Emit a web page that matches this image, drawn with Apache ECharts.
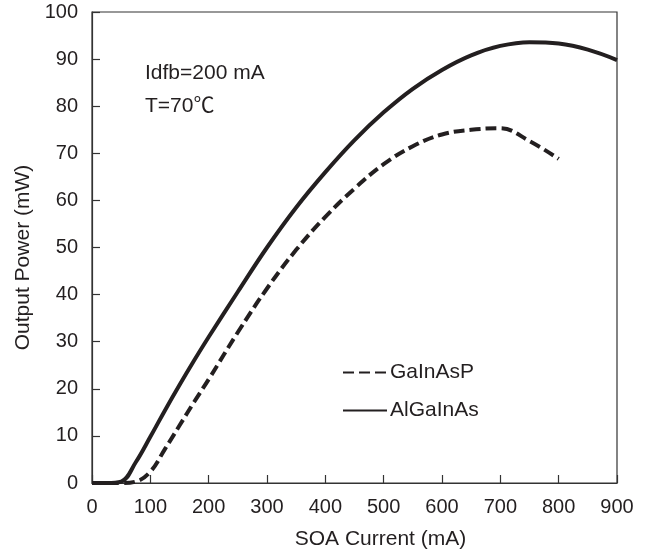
<!DOCTYPE html>
<html>
<head>
<meta charset="utf-8">
<script src="https://cdn.jsdelivr.net/npm/echarts@6/dist/echarts.min.js"></script>
<style>
  html, body { margin: 0; padding: 0; background: #fff; }
  #chart { width: 648px; height: 555px; }
</style>
</head>
<body>
<div id="chart"></div>
<script>
// ---- data ----
var gainaspCurrent = [0, 25, 50, 75, 100, 125, 150, 175, 200, 250, 300, 350, 400, 450, 500, 550, 600, 650, 700, 750, 800];
var gainaspPower   = [0, 0, 0, 0.3, 2.4, 7.2, 12.2, 17.2, 22, 32, 41.3, 49.5, 56.5, 62.5, 67.7, 71.5, 74, 75, 75.3, 72.6, 68.8];

var algainasCurrent = [0, 25, 50, 75, 100, 125, 150, 175, 200, 250, 300, 350, 400, 450, 500, 550, 600, 650, 700, 750, 800, 850, 900];
var algainasPower   = [0, 0, 0.3, 4.4, 9.8, 15.4, 20.8, 26, 31, 40.6, 50, 58.5, 66, 72.8, 78.7, 83.7, 87.7, 90.8, 92.8, 93.6, 93.3, 92, 89.8];

var xTicks = [0, 100, 200, 300, 400, 500, 600, 700, 800, 900];
var yTicks = [0, 10, 20, 30, 40, 50, 60, 70, 80, 90, 100];

var seriesNames = ['GaInAsP', 'AlGaInAs'];
var xAxisName = 'SOA Current (mA)';
var yAxisName = 'Output Power (mW)';
var noteLines = ['Idfb=200 mA', 'T=70\u2103'];

function pairs(xs, ys) {
  return xs.map(function (x, i) { return [x, ys[i]]; });
}

var FONT = '"Liberation Sans", Arial, Helvetica, "Noto Sans CJK SC", sans-serif';
var INK = '#231f20';

var chart = echarts.init(document.getElementById('chart'), null, { renderer: 'canvas' });

chart.setOption({
  backgroundColor: '#fff',
  animation: false,
  textStyle: { fontFamily: FONT, color: INK },
  grid: {
    left: 92, right: 31, top: 12, bottom: 67,
    show: true, borderColor: '#333', borderWidth: 1.2, backgroundColor: 'transparent'
  },
  legend: {
    orient: 'vertical',
    left: 342, top: 362, padding: 0,
    itemWidth: 44, itemHeight: 14, itemGap: 17,
    itemStyle: { opacity: 0 },
    textStyle: { fontFamily: FONT, fontSize: 21, color: INK, padding: [0, 0, 0, -2] },
    data: seriesNames.map(function (n) { return { name: n }; })
  },
  xAxis: {
    type: 'value',
    min: xTicks[0], max: xTicks[xTicks.length - 1], interval: 100,
    name: xAxisName,
    nameLocation: 'middle', nameGap: 46,
    nameTextStyle: { fontFamily: FONT, fontSize: 21, color: INK, padding: [0, 0, 0, 52] },
    axisLine: { show: true, lineStyle: { color: '#333', width: 1.2 } },
    axisTick: { show: true, inside: true, length: 8, lineStyle: { color: '#333', width: 1.2 } },
    axisLabel: { fontFamily: FONT, fontSize: 20, color: INK, margin: 14 },
    splitLine: { show: false }
  },
  yAxis: {
    type: 'value',
    min: yTicks[0], max: yTicks[yTicks.length - 1], interval: 10,
    name: yAxisName,
    nameLocation: 'middle', nameGap: 57,
    nameTextStyle: { fontFamily: FONT, fontSize: 21, color: INK, padding: [0, 20, 0, 0] },
    axisLine: { show: true, lineStyle: { color: '#333', width: 1.2 } },
    axisTick: { show: true, inside: true, length: 8, lineStyle: { color: '#333', width: 1.2 } },
    axisLabel: { fontFamily: FONT, fontSize: 20, color: INK, margin: 14 },
    splitLine: { show: false }
  },
  graphic: [
    { type: 'text', left: 145, top: 63, style: { text: noteLines[0], font: '21px ' + FONT, fill: INK } },
    { type: 'text', left: 145, top: 96, style: { text: noteLines[1], font: '21px ' + FONT, fill: INK } }
  ],
  series: [
    {
      name: seriesNames[0],
      type: 'line',
      data: pairs(gainaspCurrent, gainaspPower),
      symbol: 'none',
      smooth: 0.4,
      lineStyle: { color: INK, width: 4, type: [11, 5] },
      itemStyle: { color: INK },
      z: 3
    },
    {
      name: seriesNames[1],
      type: 'line',
      data: pairs(algainasCurrent, algainasPower),
      symbol: 'none',
      smooth: 0.4,
      lineStyle: { color: INK, width: 4, type: 'solid' },
      itemStyle: { color: INK },
      z: 4
    }
  ]
});
</script>
</body>
</html>
